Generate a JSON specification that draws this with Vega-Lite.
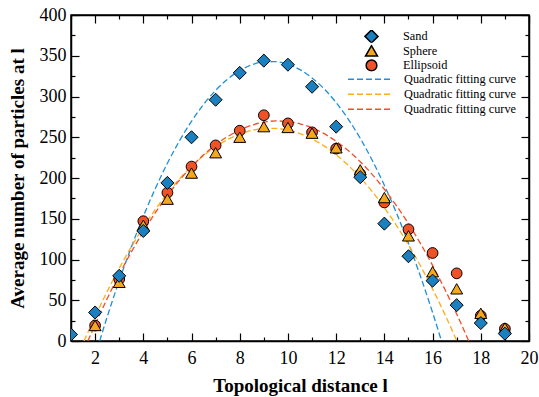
{
  "$schema": "https://vega.github.io/schema/vega-lite/v6.json",
  "width": 458,
  "height": 326,
  "autosize": "none",
  "padding": {"left": 71, "top": 15, "right": 10, "bottom": 56},
  "background": "white",
  "config": {
    "font": "Liberation Serif",
    "view": {"stroke": "black", "strokeWidth": 1.5},
    "axis": {
      "grid": false,
      "domainColor": "black",
      "domainWidth": 1.5,
      "tickColor": "black",
      "tickWidth": 1.2,
      "labelFont": "Liberation Serif",
      "labelFontSize": 18,
      "labelColor": "black",
      "titleFont": "Liberation Serif",
      "titleFontSize": 19,
      "titleFontWeight": "bold",
      "titleColor": "black",
      "labelOverlap": false,
      "labelFlush": false
    },
    "legend": {
      "orient": "none",
      "labelFont": "Liberation Serif",
      "labelFontSize": 12.3,
      "labelColor": "black",
      "padding": 0,
      "rowPadding": 1.5
    }
  },
  "datasets": {
    "points": [
      {"l": 2, "n": 19, "series": "Ellipsoid"}, {"l": 3, "n": 76, "series": "Ellipsoid"}, {"l": 4, "n": 147, "series": "Ellipsoid"}, {"l": 5, "n": 182, "series": "Ellipsoid"}, {"l": 6, "n": 214, "series": "Ellipsoid"}, {"l": 7, "n": 240, "series": "Ellipsoid"}, {"l": 8, "n": 258, "series": "Ellipsoid"}, {"l": 9, "n": 277, "series": "Ellipsoid"}, {"l": 10, "n": 267, "series": "Ellipsoid"}, {"l": 11, "n": 256, "series": "Ellipsoid"}, {"l": 12, "n": 236, "series": "Ellipsoid"}, {"l": 13, "n": 205, "series": "Ellipsoid"}, {"l": 14, "n": 170, "series": "Ellipsoid"}, {"l": 15, "n": 137, "series": "Ellipsoid"}, {"l": 16, "n": 108, "series": "Ellipsoid"}, {"l": 17, "n": 83, "series": "Ellipsoid"}, {"l": 18, "n": 31, "series": "Ellipsoid"}, {"l": 19, "n": 15, "series": "Ellipsoid"},
      {"l": 2, "n": 19, "series": "Sphere"}, {"l": 3, "n": 72, "series": "Sphere"}, {"l": 4, "n": 142, "series": "Sphere"}, {"l": 5, "n": 174, "series": "Sphere"}, {"l": 6, "n": 206, "series": "Sphere"}, {"l": 7, "n": 231, "series": "Sphere"}, {"l": 8, "n": 250, "series": "Sphere"}, {"l": 9, "n": 263, "series": "Sphere"}, {"l": 10, "n": 262, "series": "Sphere"}, {"l": 11, "n": 255, "series": "Sphere"}, {"l": 12, "n": 237, "series": "Sphere"}, {"l": 13, "n": 210, "series": "Sphere"}, {"l": 14, "n": 176, "series": "Sphere"}, {"l": 15, "n": 129, "series": "Sphere"}, {"l": 16, "n": 85, "series": "Sphere"}, {"l": 17, "n": 64, "series": "Sphere"}, {"l": 18, "n": 34, "series": "Sphere"}, {"l": 19, "n": 16, "series": "Sphere"},
      {"l": 1, "n": 8, "series": "Sand"}, {"l": 2, "n": 35, "series": "Sand"}, {"l": 3, "n": 80, "series": "Sand"}, {"l": 4, "n": 135, "series": "Sand"}, {"l": 5, "n": 194, "series": "Sand"}, {"l": 6, "n": 250, "series": "Sand"}, {"l": 7, "n": 296, "series": "Sand"}, {"l": 8, "n": 329, "series": "Sand"}, {"l": 9, "n": 344, "series": "Sand"}, {"l": 10, "n": 339, "series": "Sand"}, {"l": 11, "n": 312, "series": "Sand"}, {"l": 12, "n": 263, "series": "Sand"}, {"l": 13, "n": 201, "series": "Sand"}, {"l": 14, "n": 144, "series": "Sand"}, {"l": 15, "n": 104, "series": "Sand"}, {"l": 16, "n": 74, "series": "Sand"}, {"l": 17, "n": 44, "series": "Sand"}, {"l": 18, "n": 22, "series": "Sand"}, {"l": 19, "n": 9, "series": "Sand"}
    ],
    "curves": [
      {"l": 2.19, "n": 0, "fit": "Sand fit"}, {"l": 2.5, "n": 29.5, "fit": "Sand fit"}, {"l": 3, "n": 74.0, "fit": "Sand fit"}, {"l": 3.5, "n": 115.1, "fit": "Sand fit"}, {"l": 4, "n": 152.9, "fit": "Sand fit"}, {"l": 4.5, "n": 187.2, "fit": "Sand fit"}, {"l": 5, "n": 218.1, "fit": "Sand fit"}, {"l": 5.5, "n": 245.6, "fit": "Sand fit"}, {"l": 6, "n": 269.6, "fit": "Sand fit"}, {"l": 6.5, "n": 290.3, "fit": "Sand fit"}, {"l": 7, "n": 307.5, "fit": "Sand fit"}, {"l": 7.5, "n": 321.4, "fit": "Sand fit"}, {"l": 8, "n": 331.8, "fit": "Sand fit"}, {"l": 8.5, "n": 338.9, "fit": "Sand fit"}, {"l": 9, "n": 342.5, "fit": "Sand fit"}, {"l": 9.5, "n": 342.7, "fit": "Sand fit"}, {"l": 10, "n": 339.5, "fit": "Sand fit"}, {"l": 10.5, "n": 332.9, "fit": "Sand fit"}, {"l": 11, "n": 322.8, "fit": "Sand fit"}, {"l": 11.5, "n": 309.4, "fit": "Sand fit"}, {"l": 12, "n": 292.5, "fit": "Sand fit"}, {"l": 12.5, "n": 272.3, "fit": "Sand fit"}, {"l": 13, "n": 248.6, "fit": "Sand fit"}, {"l": 13.5, "n": 221.5, "fit": "Sand fit"}, {"l": 14, "n": 191.1, "fit": "Sand fit"}, {"l": 14.5, "n": 157.2, "fit": "Sand fit"}, {"l": 15, "n": 119.9, "fit": "Sand fit"}, {"l": 15.5, "n": 79.2, "fit": "Sand fit"}, {"l": 16, "n": 35.0, "fit": "Sand fit"}, {"l": 16.37, "n": 0, "fit": "Sand fit"},
      {"l": 1.54, "n": 0, "fit": "Sphere fit"}, {"l": 2, "n": 30.1, "fit": "Sphere fit"}, {"l": 2.5, "n": 60.8, "fit": "Sphere fit"}, {"l": 3, "n": 89.2, "fit": "Sphere fit"}, {"l": 3.5, "n": 115.5, "fit": "Sphere fit"}, {"l": 4, "n": 139.6, "fit": "Sphere fit"}, {"l": 4.5, "n": 161.5, "fit": "Sphere fit"}, {"l": 5, "n": 181.3, "fit": "Sphere fit"}, {"l": 5.5, "n": 198.8, "fit": "Sphere fit"}, {"l": 6, "n": 214.2, "fit": "Sphere fit"}, {"l": 6.5, "n": 227.4, "fit": "Sphere fit"}, {"l": 7, "n": 238.4, "fit": "Sphere fit"}, {"l": 7.5, "n": 247.3, "fit": "Sphere fit"}, {"l": 8, "n": 253.9, "fit": "Sphere fit"}, {"l": 8.5, "n": 258.4, "fit": "Sphere fit"}, {"l": 9, "n": 260.7, "fit": "Sphere fit"}, {"l": 9.5, "n": 260.8, "fit": "Sphere fit"}, {"l": 10, "n": 258.7, "fit": "Sphere fit"}, {"l": 10.5, "n": 254.5, "fit": "Sphere fit"}, {"l": 11, "n": 248.0, "fit": "Sphere fit"}, {"l": 11.5, "n": 239.4, "fit": "Sphere fit"}, {"l": 12, "n": 228.6, "fit": "Sphere fit"}, {"l": 12.5, "n": 215.6, "fit": "Sphere fit"}, {"l": 13, "n": 200.5, "fit": "Sphere fit"}, {"l": 13.5, "n": 183.1, "fit": "Sphere fit"}, {"l": 14, "n": 163.6, "fit": "Sphere fit"}, {"l": 14.5, "n": 141.9, "fit": "Sphere fit"}, {"l": 15, "n": 118.0, "fit": "Sphere fit"}, {"l": 15.5, "n": 92.0, "fit": "Sphere fit"}, {"l": 16, "n": 63.7, "fit": "Sphere fit"}, {"l": 16.5, "n": 33.3, "fit": "Sphere fit"}, {"l": 17.01, "n": 0, "fit": "Sphere fit"},
      {"l": 1.70, "n": 0, "fit": "Ellipsoid fit"}, {"l": 2, "n": 20.1, "fit": "Ellipsoid fit"}, {"l": 2.5, "n": 51.9, "fit": "Ellipsoid fit"}, {"l": 3, "n": 81.6, "fit": "Ellipsoid fit"}, {"l": 3.5, "n": 109.0, "fit": "Ellipsoid fit"}, {"l": 4, "n": 134.3, "fit": "Ellipsoid fit"}, {"l": 4.5, "n": 157.5, "fit": "Ellipsoid fit"}, {"l": 5, "n": 178.5, "fit": "Ellipsoid fit"}, {"l": 5.5, "n": 197.3, "fit": "Ellipsoid fit"}, {"l": 6, "n": 213.9, "fit": "Ellipsoid fit"}, {"l": 6.5, "n": 228.4, "fit": "Ellipsoid fit"}, {"l": 7, "n": 240.8, "fit": "Ellipsoid fit"}, {"l": 7.5, "n": 250.9, "fit": "Ellipsoid fit"}, {"l": 8, "n": 258.9, "fit": "Ellipsoid fit"}, {"l": 8.5, "n": 264.8, "fit": "Ellipsoid fit"}, {"l": 9, "n": 268.4, "fit": "Ellipsoid fit"}, {"l": 9.5, "n": 270.0, "fit": "Ellipsoid fit"}, {"l": 10, "n": 269.3, "fit": "Ellipsoid fit"}, {"l": 10.5, "n": 266.5, "fit": "Ellipsoid fit"}, {"l": 11, "n": 261.5, "fit": "Ellipsoid fit"}, {"l": 11.5, "n": 254.4, "fit": "Ellipsoid fit"}, {"l": 12, "n": 245.1, "fit": "Ellipsoid fit"}, {"l": 12.5, "n": 233.6, "fit": "Ellipsoid fit"}, {"l": 13, "n": 220.0, "fit": "Ellipsoid fit"}, {"l": 13.5, "n": 204.2, "fit": "Ellipsoid fit"}, {"l": 14, "n": 186.2, "fit": "Ellipsoid fit"}, {"l": 14.5, "n": 166.1, "fit": "Ellipsoid fit"}, {"l": 15, "n": 143.9, "fit": "Ellipsoid fit"}, {"l": 15.5, "n": 119.4, "fit": "Ellipsoid fit"}, {"l": 16, "n": 92.8, "fit": "Ellipsoid fit"}, {"l": 16.5, "n": 64.0, "fit": "Ellipsoid fit"}, {"l": 17, "n": 33.1, "fit": "Ellipsoid fit"}, {"l": 17.5, "n": 0, "fit": "Ellipsoid fit"}
    ]
  },
  "layer": [
    {
      "data": {"name": "curves"},
      "mark": {"type": "line", "strokeDash": [6, 3], "strokeWidth": 1.3, "interpolate": "monotone", "clip": true},
      "encoding": {
        "x": {"field": "l", "type": "quantitative", "scale": {"domain": [1, 20], "nice": false, "zero": false},
          "axis": {"orient": "top", "values": [1,2,3,4,5,6,7,8,9,10,11,12,13,14,15,16,17,18,19,20], "labels": false, "title": null,
            "tickSize": {"condition": {"test": "datum.value % 2 === 0", "value": -8}, "value": -4}}},
        "y": {"field": "n", "type": "quantitative", "scale": {"domain": [0, 400], "nice": false},
          "axis": {"orient": "right", "values": [0,25,50,75,100,125,150,175,200,225,250,275,300,325,350,375,400], "labels": false, "title": null,
            "tickSize": {"condition": {"test": "datum.value % 50 === 0", "value": -8}, "value": -4}}},
        "stroke": {"field": "fit", "type": "nominal",
          "scale": {"domain": ["Sand fit", "Sphere fit", "Ellipsoid fit"], "range": ["#1f8fd6", "#ffae1a", "#f2502a"]},
          "legend": {"title": null, "legendX": 276, "legendY": 57, "symbolType": "stroke", "symbolDash": [6, 3], "symbolStrokeWidth": 1.5,
            "symbolSize": 1764, "clipHeight": 14.3, "rowPadding": 0, "labelOffset": 13, "labelExpr": "'Quadratic fitting curve'"}}
      }
    },
    {
      "data": {"name": "points"},
      "mark": {"type": "point", "filled": true, "stroke": "black", "strokeWidth": 1, "opacity": 1, "clip": true},
      "encoding": {
        "x": {"field": "l", "type": "quantitative", "title": "Topological distance l",
          "axis": {"orient": "bottom", "values": [1,2,3,4,5,6,7,8,9,10,11,12,13,14,15,16,17,18,19,20],
            "labelExpr": "datum.value % 2 === 0 ? datum.label : ''", "labelPadding": 16, "titlePadding": 5,
            "tickSize": {"condition": {"test": "datum.value % 2 === 0", "value": -8}, "value": -4}}},
        "y": {"field": "n", "type": "quantitative", "title": "Average number of particles at l",
          "axis": {"orient": "left", "values": [0,25,50,75,100,125,150,175,200,225,250,275,300,325,350,375,400],
            "labelExpr": "datum.value % 50 === 0 ? datum.label : ''", "labelPadding": 13, "titlePadding": 12,
            "tickSize": {"condition": {"test": "datum.value % 50 === 0", "value": -8}, "value": -4}}},
        "shape": {"field": "series", "type": "nominal",
          "scale": {"domain": ["Sand", "Sphere", "Ellipsoid"], "range": ["diamond", "triangle-up", "circle"]},
          "legend": {"title": null, "legendX": 293, "legendY": 15, "labelOffset": 24, "clipHeight": 12.8,
            "encode": {"symbols": {"update": {"stroke": {"value": "black"}, "strokeWidth": {"value": 1}}}}}},
        "fill": {"field": "series", "type": "nominal",
          "scale": {"domain": ["Sand", "Sphere", "Ellipsoid"], "range": ["#1a80c0", "#f5a81c", "#ee5226"]},
          "legend": {"title": null, "legendX": 293, "legendY": 15, "labelOffset": 24, "clipHeight": 12.8,
            "encode": {"symbols": {"update": {"stroke": {"value": "black"}, "strokeWidth": {"value": 1}}}}}},
        "size": {"field": "series", "type": "nominal",
          "scale": {"domain": ["Sand", "Sphere", "Ellipsoid"], "range": [170, 115, 115]},
          "legend": {"title": null, "legendX": 293, "legendY": 15, "labelOffset": 24, "clipHeight": 12.8,
            "encode": {"symbols": {"update": {"stroke": {"value": "black"}, "strokeWidth": {"value": 1}}}}}}
      }
    }
  ],
  "resolve": {"axis": {"x": "independent", "y": "independent"}}
}
